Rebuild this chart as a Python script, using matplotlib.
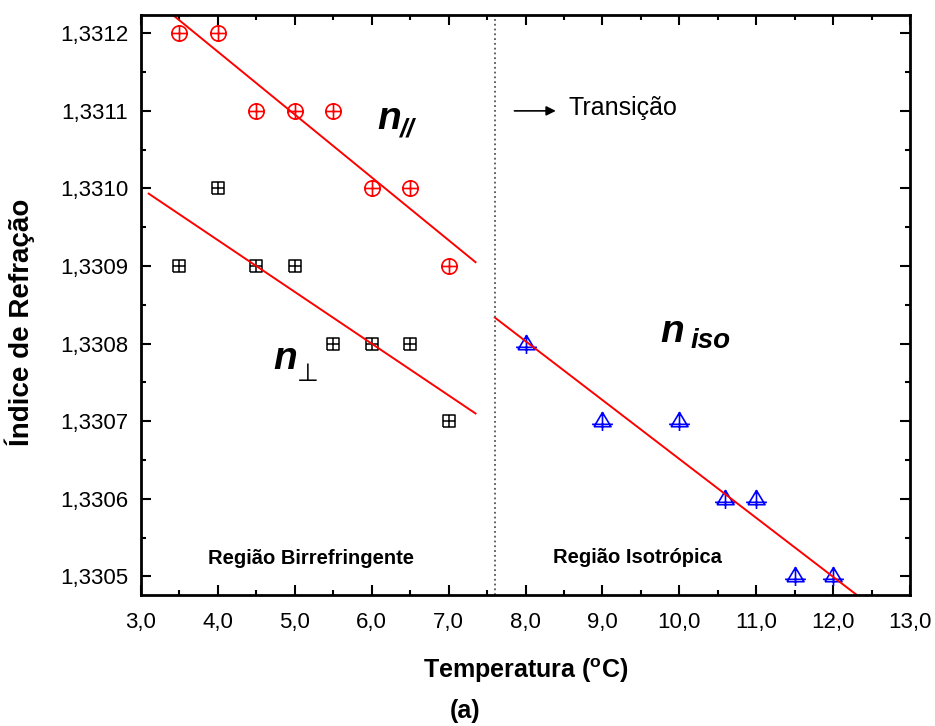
import matplotlib
matplotlib.use("Agg")
import matplotlib.pyplot as plt
import numpy as np
from matplotlib.path import Path
from matplotlib.ticker import MultipleLocator, FuncFormatter

plt.rcParams["font.family"] = ["Liberation Sans", "DejaVu Sans"]
plt.rcParams["mathtext.fontset"] = "custom"
plt.rcParams["mathtext.rm"] = "Liberation Sans:bold"

# data
t_par = [3.5, 4.0, 4.5, 5.0, 5.5, 6.0, 6.5, 7.0]
n_par = [1.3312, 1.3312, 1.3311, 1.3311, 1.3311, 1.3310, 1.3310, 1.3309]

t_perp = [3.5, 4.0, 4.5, 5.0, 5.5, 6.0, 6.5, 7.0]
n_perp = [1.3309, 1.3310, 1.3309, 1.3309, 1.3308, 1.3308, 1.3308, 1.3307]

t_iso = [8.0, 9.0, 10.0, 10.6, 11.0, 11.5, 12.0]
n_iso = [1.3308, 1.3307, 1.3307, 1.3306, 1.3306, 1.3305, 1.3305]

t_transition = 7.6
fit_range_left = [3.1, 7.35]
fit_range_iso = [7.6, 12.6]

# marker shapes (open symbol with a cross)
M, L = Path.MOVETO, Path.LINETO
cross = Path([[-1, 0], [1, 0], [0, -1], [0, 1]], [M, L, M, L])
circle_plus = Path.make_compound_path(Path.unit_circle(), cross)
square_plus = Path.make_compound_path(
    Path([[-1, -1], [1, -1], [1, 1], [-1, 1], [-1, -1]], [M, L, L, L, L]), cross)
tri_plus = Path([[-0.9, -0.55], [0, 0.95], [0.9, -0.55], [-0.9, -0.55],
                 [-1.1, -0.3], [1.1, -0.3], [0, 0.95], [0, -1.0]],
                [M, L, L, L, M, L, M, L])

fig = plt.figure(figsize=(9.35, 7.26), dpi=100)
ax = fig.add_axes([0.1508, 0.1804, 0.8225, 0.7994])

ax.plot(t_par, n_par, linestyle="none", marker=circle_plus, markersize=11,
        markerfacecolor="none", markeredgecolor="red", markeredgewidth=1.2)
ax.plot(t_perp, n_perp, linestyle="none", marker=square_plus, markersize=9,
        markerfacecolor="none", markeredgecolor="black", markeredgewidth=1.1)
ax.plot(t_iso, n_iso, linestyle="none", marker=tri_plus, markersize=15,
        markerfacecolor="none", markeredgecolor="blue", markeredgewidth=1.2)

# linear fits
for xs, ys, rng in [(t_par, n_par, fit_range_left),
                    (t_perp, n_perp, fit_range_left),
                    (t_iso, n_iso, fit_range_iso)]:
    p = np.polyfit(xs, ys, 1)
    xx = np.array(rng)
    ax.plot(xx, np.polyval(p, xx), color="red", lw=1.4)

ax.axvline(t_transition, color="#555555", linestyle=":", lw=1.3)

ax.set_xlim(3.0, 13.0)
ax.set_ylim(1.330476, 1.331224)

ax.xaxis.set_major_locator(MultipleLocator(1.0))
ax.xaxis.set_minor_locator(MultipleLocator(0.5))
ax.yaxis.set_major_locator(MultipleLocator(0.0001))
ax.yaxis.set_minor_locator(MultipleLocator(0.00005))
ax.xaxis.set_major_formatter(FuncFormatter(lambda v, p: f"{v:.1f}".replace(".", ",")))
ax.yaxis.set_major_formatter(FuncFormatter(lambda v, p: f"{v:.4f}".replace(".", ",")))

ax.tick_params(which="both", direction="in", top=True, right=True, width=1.5)
ax.tick_params(which="major", length=7, labelsize=16, pad=9)
ax.tick_params(axis="x", which="major", pad=12)
ax.tick_params(which="minor", length=3.5)
for s in ax.spines.values():
    s.set_linewidth(2)

ax.set_xlabel(r"Temperatura ($^{\rm o}$C)", fontsize=18, fontweight="bold")
ax.xaxis.set_label_coords(0.5, -0.105)
ax.set_ylabel("Índice de Refração", fontsize=20, fontweight="bold")
ax.yaxis.set_label_coords(-0.138, 0.47)
fig.text(465 / 935, 1 - 711 / 726, "(a)", fontsize=18, fontweight="bold",
         ha="center", va="center")

# curve labels
ax.text(6.225, 1.331089, "n", fontsize=28, fontweight="bold", style="italic",
        ha="center", va="center")
ax.text(6.47, 1.331076, "//", fontsize=19, fontweight="bold", style="italic",
        ha="center", va="center")
ax.text(4.873, 1.33078, "n", fontsize=28, fontweight="bold", style="italic",
        ha="center", va="center")
ax.text(5.17, 1.330761, "⊥", fontsize=18, family="DejaVu Sans",
        ha="center", va="center")
ax.text(9.905, 1.330815, "n", fontsize=28, fontweight="bold", style="italic",
        ha="center", va="center")
ax.text(10.41, 1.330803, "iso", fontsize=20, fontweight="bold", style="italic",
        ha="center", va="center")

ax.annotate("", xy=(8.43, 1.3311), xytext=(7.82, 1.3311),
            arrowprops=dict(arrowstyle="-|>", color="black", lw=1.2,
                            mutation_scale=14))
ax.text(8.56, 1.331104, "Transição", fontsize=18, ha="left", va="center")

ax.text(5.21, 1.330523, "Região Birrefringente", fontsize=14.5,
        fontweight="bold", ha="center", va="center")
ax.text(9.45, 1.330524, "Região Isotrópica", fontsize=14.5,
        fontweight="bold", ha="center", va="center")

fig.savefig("out.png", dpi=100)
